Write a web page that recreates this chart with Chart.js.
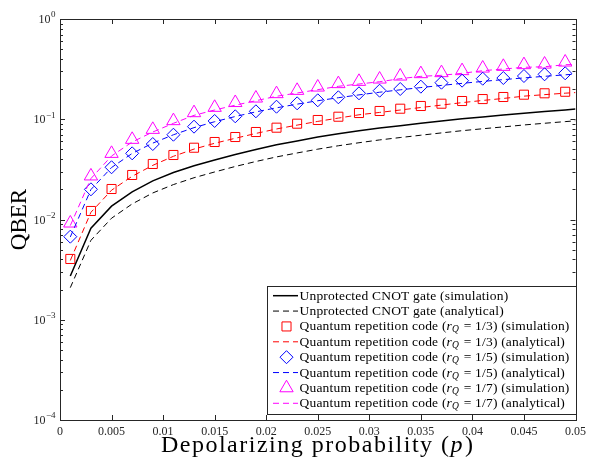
<!DOCTYPE html>
<html>
<head>
<meta charset="utf-8">
<script src="https://cdn.jsdelivr.net/npm/chart.js@4.4.0/dist/chart.umd.min.js"></script>
<style>
  html, body { margin: 0; padding: 0; background: #fff; }
  #wrap { width: 591px; height: 460px; }
</style>
</head>
<body>
<div id="wrap"><canvas id="qber"></canvas></div>
<script>
// depolarizing probability grid (simulation points) and line grid
const pSim = [0.001, 0.003, 0.005, 0.007, 0.009, 0.011, 0.013, 0.015, 0.017, 0.019, 0.021, 0.023, 0.025,
              0.027, 0.029, 0.031, 0.033, 0.035, 0.037, 0.039, 0.041, 0.043, 0.045, 0.047, 0.049];
const pLine = [0.001, 0.003, 0.005, 0.007, 0.009, 0.011, 0.013, 0.015, 0.017, 0.019, 0.021, 0.023, 0.025,
               0.027, 0.029, 0.031, 0.033, 0.035, 0.037, 0.039, 0.041, 0.043, 0.045, 0.047, 0.049, 0.05];

// unprotected CNOT gate
const simUnprot = [0.00273, 0.0082, 0.0136, 0.0189, 0.0243, 0.0294, 0.0343, 0.0392, 0.0446, 0.0500, 0.0556, 0.0608, 0.0664,
                   0.0717, 0.0768, 0.0818, 0.0862, 0.0910, 0.0960, 0.1010, 0.1055, 0.1100, 0.1150, 0.1195, 0.1240, 0.1262];
const anaUnprot = [0.00209, 0.0062, 0.0103, 0.0143, 0.0184, 0.0223, 0.0261, 0.0298, 0.0338, 0.0379, 0.0421, 0.0461, 0.0503,
                   0.0544, 0.0583, 0.0622, 0.0657, 0.0693, 0.0731, 0.0769, 0.0804, 0.0839, 0.0877, 0.0912, 0.0947, 0.0965];

// repetition code r_Q = 1/3
const simR3 = [0.00404, 0.01216, 0.02015, 0.0278, 0.0358, 0.0440, 0.0520, 0.0593, 0.0665, 0.0746, 0.0824, 0.0903, 0.0983,
               0.1060, 0.1154, 0.1209, 0.1274, 0.1356, 0.1429, 0.1520, 0.1590, 0.1667, 0.1758, 0.1815, 0.1880];
const anaR3 = [0.0039, 0.0118, 0.0196, 0.0270, 0.0347, 0.0427, 0.0504, 0.0576, 0.0646, 0.0722, 0.0800, 0.0874, 0.0952,
               0.1027, 0.1108, 0.1170, 0.1236, 0.1310, 0.1384, 0.1465, 0.1540, 0.1612, 0.1700, 0.1760, 0.1820, 0.1845];

// repetition code r_Q = 1/5
const simR5 = [0.00674, 0.0200, 0.0332, 0.0457, 0.0566, 0.0701, 0.0843, 0.0961, 0.1070, 0.1200, 0.1334, 0.1442, 0.1545,
               0.1656, 0.1815, 0.1927, 0.2003, 0.2113, 0.2316, 0.2425, 0.2537, 0.2578, 0.2700, 0.2808, 0.2873];
const anaR5 = [0.0067, 0.0199, 0.0330, 0.0456, 0.0578, 0.0700, 0.0825, 0.0945, 0.1065, 0.1185, 0.1300, 0.1415, 0.1530,
               0.1640, 0.1750, 0.1860, 0.1965, 0.2070, 0.2175, 0.2280, 0.2385, 0.2485, 0.2585, 0.2680, 0.2775, 0.2820];

// repetition code r_Q = 1/7
const simR7 = [0.00919, 0.0271, 0.0455, 0.0628, 0.0790, 0.0965, 0.1159, 0.1310, 0.1463, 0.1622, 0.1794, 0.1935, 0.2088,
               0.2258, 0.2379, 0.2509, 0.2688, 0.2839, 0.2906, 0.3043, 0.3230, 0.3358, 0.3491, 0.3539, 0.3707];
const anaR7 = [0.0087, 0.0256, 0.0430, 0.0593, 0.0746, 0.0911, 0.1094, 0.1237, 0.1381, 0.1531, 0.1694, 0.1827, 0.1972,
               0.2131, 0.2246, 0.2368, 0.2538, 0.2680, 0.2743, 0.2873, 0.3050, 0.3170, 0.3296, 0.3341, 0.3499, 0.3520];

// axes
const xTicks = [0, 0.005, 0.01, 0.015, 0.02, 0.025, 0.03, 0.035, 0.04, 0.045, 0.05];
const xTickLabels = ['0', '0.005', '0.01', '0.015', '0.02', '0.025', '0.03', '0.035', '0.04', '0.045', '0.05'];
const yTicks = [1e-4, 1e-3, 1e-2, 1e-1, 1];
const yTickExp = ['\u22124', '\u22123', '\u22122', '\u22121', '0'];

const legendRows = [
  { kind: 'line', color: '#000', dash: [], width: 1.5, text: ['Unprotected CNOT gate (simulation)'] },
  { kind: 'line', color: '#000', dash: [6, 4], width: 1, text: ['Unprotected CNOT gate (analytical)'] },
  { kind: 'point', color: '#ff0000', style: 'rect', radius: 6.4, text: ['Quantum repetition code (', 'r', 'Q', ' = 1/3) (simulation)'] },
  { kind: 'line', color: '#ff0000', dash: [6, 4], width: 1, text: ['Quantum repetition code (', 'r', 'Q', ' = 1/3) (analytical)'] },
  { kind: 'point', color: '#0000ff', style: 'rectRot', radius: 6.5, text: ['Quantum repetition code (', 'r', 'Q', ' = 1/5) (simulation)'] },
  { kind: 'line', color: '#0000ff', dash: [6, 4], width: 1, text: ['Quantum repetition code (', 'r', 'Q', ' = 1/5) (analytical)'] },
  { kind: 'point', color: '#ff00ff', style: 'triangle', radius: 7.7, text: ['Quantum repetition code (', 'r', 'Q', ' = 1/7) (simulation)'] },
  { kind: 'line', color: '#ff00ff', dash: [6, 4], width: 1, text: ['Quantum repetition code (', 'r', 'Q', ' = 1/7) (analytical)'] }
];

const SERIF = '"Liberation Serif", "DejaVu Serif", serif';
const AXIS_COLOR = '#262626';

function pts(xs, ys) {
  return ys.map((y, i) => ({ x: xs[i], y: y }));
}

function lineSet(label, xs, ys, color, dash, width) {
  return { label: label, data: pts(xs, ys), borderColor: color, borderDash: dash, borderWidth: width,
           pointRadius: 0, fill: false, tension: 0 };
}

function markerSet(label, xs, ys, color, style, radius) {
  return { label: label, data: pts(xs, ys), showLine: false, borderColor: color, backgroundColor: 'rgba(0,0,0,0)',
           pointStyle: style, pointRadius: radius, pointBorderWidth: 1, pointBackgroundColor: 'rgba(0,0,0,0)' };
}

// draws inward ticks, box, y labels with exponents, axis titles and the legend
const decorations = {
  id: 'decorations',
  afterDraw(chart) {
    const ctx = chart.ctx;
    const a = chart.chartArea;
    const xs = chart.scales.x, ys = chart.scales.y;
    ctx.save();
    ctx.strokeStyle = AXIS_COLOR;
    ctx.lineWidth = 1;
    ctx.setLineDash([]);
    ctx.beginPath();
    // x ticks, bottom and top
    xTicks.forEach(v => {
      const px = Math.round(xs.getPixelForValue(v)) + 0.5;
      ctx.moveTo(px, a.bottom); ctx.lineTo(px, a.bottom - 5);
      ctx.moveTo(px, a.top); ctx.lineTo(px, a.top + 5);
    });
    // y ticks, major and minor, left and right
    yTicks.forEach((v, i) => {
      const py = Math.round(ys.getPixelForValue(v)) + 0.5;
      ctx.moveTo(a.left, py); ctx.lineTo(a.left + 5, py);
      ctx.moveTo(a.right, py); ctx.lineTo(a.right - 5, py);
      if (i < yTicks.length - 1) {
        for (let m = 2; m <= 9; m++) {
          const my = Math.round(ys.getPixelForValue(v * m)) + 0.5;
          ctx.moveTo(a.left, my); ctx.lineTo(a.left + 3, my);
          ctx.moveTo(a.right, my); ctx.lineTo(a.right - 3, my);
        }
      }
    });
    ctx.stroke();
    ctx.strokeRect(Math.round(a.left) + 0.5, Math.round(a.top) + 0.5,
                   Math.round(a.right - a.left), Math.round(a.bottom - a.top));

    // y tick labels 10^n
    ctx.fillStyle = AXIS_COLOR;
    ctx.textBaseline = 'middle';
    ctx.textAlign = 'left';
    yTicks.forEach((v, i) => {
      const py = ys.getPixelForValue(v);
      ctx.font = '12px ' + SERIF;
      const w10 = ctx.measureText('10').width;
      ctx.font = '9px ' + SERIF;
      const we = ctx.measureText(yTickExp[i]).width;
      const x0 = a.left - 5 - w10 - we;
      ctx.font = '12px ' + SERIF;
      ctx.fillText('10', x0, py + 1);
      ctx.font = '9px ' + SERIF;
      ctx.fillText(yTickExp[i], x0 + w10 + 0.5, py - 4);
    });

    // axis titles
    ctx.fillStyle = '#000';
    ctx.textBaseline = 'alphabetic';
    ctx.letterSpacing = '1.5px';
    ctx.font = '24px ' + SERIF;
    const t1 = 'Depolarizing probability (', t2 = 'p', t3 = ')';
    const w1 = ctx.measureText(t1).width, w3 = ctx.measureText(t3).width;
    ctx.font = 'italic 24px ' + SERIF;
    const w2 = ctx.measureText(t2).width + 1;
    let tx = (a.left + a.right) / 2 - (w1 + w2 + w3) / 2;
    const ty = 452;
    ctx.font = '24px ' + SERIF;
    ctx.fillText(t1, tx, ty);
    ctx.font = 'italic 24px ' + SERIF;
    ctx.fillText(t2, tx + w1, ty);
    ctx.font = '24px ' + SERIF;
    ctx.fillText(t3, tx + w1 + w2, ty);
    ctx.letterSpacing = '0px';

    ctx.save();
    ctx.translate(26, (a.top + a.bottom) / 2);
    ctx.rotate(-Math.PI / 2);
    ctx.textAlign = 'center';
    ctx.font = '23px ' + SERIF;
    ctx.fillText('QBER', 0, 0);
    ctx.restore();

    // legend
    const lx = 267.5, ly = 286.5, lw = 309, lh = 128;
    ctx.fillStyle = '#fff';
    ctx.fillRect(lx, ly, lw, lh);
    ctx.strokeStyle = AXIS_COLOR;
    ctx.lineWidth = 1;
    ctx.strokeRect(lx, ly, lw, lh);
    ctx.letterSpacing = '0.2px';
    legendRows.forEach((row, i) => {
      const cy = 295.7 + i * 15.37;
      if (row.kind === 'line') {
        ctx.save();
        ctx.strokeStyle = row.color;
        ctx.lineWidth = row.width;
        ctx.setLineDash(row.dash);
        ctx.beginPath();
        ctx.moveTo(273, cy); ctx.lineTo(298, cy);
        ctx.stroke();
        ctx.restore();
      } else {
        ctx.save();
        ctx.strokeStyle = row.color;
        ctx.fillStyle = 'rgba(0,0,0,0)';
        ctx.lineWidth = 1;
        Chart.helpers.drawPoint(ctx, { pointStyle: row.style, radius: row.radius, rotation: 0, borderWidth: 1 }, 286.5, cy);
        ctx.restore();
      }
      let x = 299.5;
      ctx.fillStyle = '#000';
      ctx.textBaseline = 'middle';
      row.text.forEach((seg, k) => {
        if (row.text.length > 1 && k === 1) {
          ctx.font = 'italic 13.5px ' + SERIF;
          ctx.fillText(seg, x, cy + 0.5);
        } else if (row.text.length > 1 && k === 2) {
          ctx.font = 'italic 9.5px ' + SERIF;
          ctx.fillText(seg, x, cy + 3.5);
          x += 1;
        } else {
          ctx.font = '13.5px ' + SERIF;
          ctx.fillText(seg, x, cy + 0.5);
        }
        x += ctx.measureText(seg).width;
      });
    });
    ctx.letterSpacing = '0px';
    ctx.restore();
  }
};

new Chart(document.getElementById('qber'), {
  type: 'line',
  data: {
    datasets: [
      lineSet('Unprotected CNOT gate (simulation)', pLine, simUnprot, '#000', [], 1.5),
      lineSet('Unprotected CNOT gate (analytical)', pLine, anaUnprot, '#000', [6, 4], 1),
      lineSet('r=1/3 analytical', pLine, anaR3, '#ff0000', [6, 4], 1),
      lineSet('r=1/5 analytical', pLine, anaR5, '#0000ff', [6, 4], 1),
      lineSet('r=1/7 analytical', pLine, anaR7, '#ff00ff', [6, 4], 1),
      markerSet('r=1/3 simulation', pSim, simR3, '#ff0000', 'rect', 6.4),
      markerSet('r=1/5 simulation', pSim, simR5, '#0000ff', 'rectRot', 6.5),
      markerSet('r=1/7 simulation', pSim, simR7, '#ff00ff', 'triangle', 7.7)
    ]
  },
  options: {
    responsive: true,
    maintainAspectRatio: false,
    animation: false,
    events: [],
    layout: { padding: { left: 0, top: 19, right: 13, bottom: 0 } },
    plugins: { legend: { display: false }, tooltip: { enabled: false } },
    scales: {
      x: {
        type: 'linear', min: 0, max: 0.05,
        grid: { display: false, drawTicks: false },
        border: { display: false },
        afterBuildTicks: s => { s.ticks = xTicks.map(v => ({ value: v })); },
        afterFit: s => { s.height = 40; },
        ticks: {
          padding: 5, color: AXIS_COLOR, maxRotation: 0, autoSkip: false,
          font: { family: SERIF, size: 12 },
          callback: (v, i) => xTickLabels[i]
        }
      },
      y: {
        type: 'logarithmic', min: 1e-4, max: 1,
        grid: { display: false, drawTicks: false },
        border: { display: false },
        afterFit: s => { s.width = 60; },
        ticks: { display: false }
      }
    }
  },
  plugins: [decorations]
});
</script>
</body>
</html>
